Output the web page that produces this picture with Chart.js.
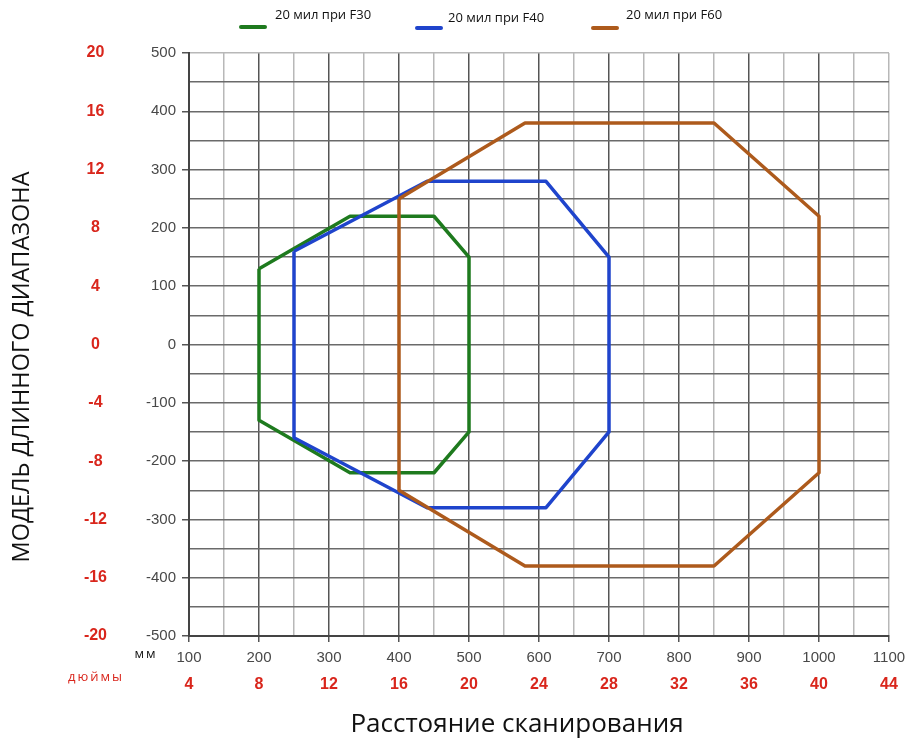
<!DOCTYPE html>
<html>
<head>
<meta charset="utf-8">
<script src="https://cdn.jsdelivr.net/npm/chart.js@4.4.0/dist/chart.umd.min.js"></script>
<style>
html,body{margin:0;padding:0;background:#fff;}
#wrap{width:913px;height:743px;position:relative;}
</style>
</head>
<body>
<div id="wrap"><canvas id="c"></canvas></div>
<script>
// ---- data ----
const seriesLabels = ['20 мил при F30', '20 мил при F40', '20 мил при F60'];
const f30X = [200, 330, 450, 500, 500, 450, 330, 200, 200];
const f30Y = [130, 220, 220, 150, -150, -220, -220, -130, 130];
const f40X = [250, 440, 610, 700, 700, 610, 440, 250, 250];
const f40Y = [160, 280, 280, 150, -150, -280, -280, -160, 160];
const f60X = [400, 580, 850, 1000, 1000, 850, 580, 400, 400];
const f60Y = [250, 380, 380, 220, -220, -380, -380, -250, 250];

const xMmTicks = [100, 200, 300, 400, 500, 600, 700, 800, 900, 1000, 1100];
const xInchTicks = [4, 8, 12, 16, 20, 24, 28, 32, 36, 40, 44];
const yMmTicks = [500, 400, 300, 200, 100, 0, -100, -200, -300, -400, -500];
const yInchTicks = [20, 16, 12, 8, 4, 0, -4, -8, -12, -16, -20];

const xTitle = 'Расстояние сканирования';
const yTitle = 'МОДЕЛЬ ДЛИННОГО ДИАПАЗОНА';
const mmUnit = 'мм';
const inchUnit = 'дюймы';

const colors = ['#1e7a1e', '#1f44cc', '#ad5a1c'];

function pts(xs, ys) { return xs.map((x, i) => ({ x: x, y: ys[i] })); }

const RED = '#d9261c';
const GRAYTXT = '#484848';

const extras = {
  id: 'extras',
  afterDraw(chart) {
    const ctx = chart.ctx;
    ctx.save();
    // legend
    const pos = [[239, 27, 275, 15], [415, 28, 448, 18], [591, 28, 626, 15]];
    chart.data.datasets.forEach((ds, i) => {
      const p = pos[i];
      ctx.strokeStyle = ds.borderColor;
      ctx.lineWidth = 4;
      ctx.lineCap = 'round';
      ctx.beginPath();
      ctx.moveTo(p[0] + 2, p[1]);
      ctx.lineTo(p[0] + 26, p[1]);
      ctx.stroke();
      ctx.fillStyle = '#111';
      ctx.font = '13px "Open Sans"';
      ctx.textAlign = 'left';
      ctx.textBaseline = 'middle';
      ctx.fillText(ds.label, p[2], p[3]);
    });
    // unit labels
    ctx.fillStyle = '#111';
    ctx.font = '13px "Open Sans"';
    ctx.textAlign = 'center';
    ctx.textBaseline = 'middle';
    if ('letterSpacing' in ctx) ctx.letterSpacing = '2px';
    ctx.fillText(mmUnit, 146, 654);
    ctx.fillStyle = RED;
    ctx.font = '13px "Open Sans"';
    ctx.fillText(inchUnit, 96, 677);
    if ('letterSpacing' in ctx) ctx.letterSpacing = '0px';
    // x title
    ctx.fillStyle = '#111';
    ctx.font = '26px "Open Sans"';
    ctx.textAlign = 'center';
    ctx.textBaseline = 'middle';
    ctx.fillText(xTitle, 517, 725);
    // y title
    ctx.translate(22, 367);
    ctx.rotate(-Math.PI / 2);
    ctx.font = '23.5px "Open Sans"';
    ctx.fillText(yTitle, 0, 0);
    ctx.restore();
  }
};

new Chart(document.getElementById('c'), {
  type: 'scatter',
  data: {
    datasets: [
      { label: seriesLabels[0], data: pts(f30X, f30Y), borderColor: colors[0], order: 3 },
      { label: seriesLabels[1], data: pts(f40X, f40Y), borderColor: colors[1], order: 2 },
      { label: seriesLabels[2], data: pts(f60X, f60Y), borderColor: colors[2], order: 1 }
    ].map(d => Object.assign(d, {
      showLine: true, borderWidth: 3.5, pointRadius: 0, pointHoverRadius: 0,
      tension: 0, fill: false, backgroundColor: d.borderColor, borderJoinStyle: 'round'
    }))
  },
  options: {
    responsive: true,
    maintainAspectRatio: false,
    animation: false,
    devicePixelRatio: 1,
    layout: { padding: { top: 53, right: 24, left: 0, bottom: 0 } },
    plugins: { legend: { display: false }, tooltip: { enabled: false }, title: { display: false } },
    scales: {
      x: {
        type: 'linear', position: 'bottom', weight: 0,
        min: 100, max: 1100,
        afterFit: s => { s.height = 32; },
        ticks: {
          stepSize: 50, autoSkip: false, maxRotation: 0, padding: 7,
          color: GRAYTXT, font: { family: 'Liberation Sans', size: 15 },
          callback: v => xMmTicks.includes(v) ? String(v) : ''
        },
        grid: {
          lineWidth: 1.5, tickLength: 6,
          color: c => (c.tick && c.tick.value % 100 === 0 && c.tick.value !== 1100) ? '#555' : '#b8b8b8',
          tickColor: c => (c.tick && c.tick.value % 100 === 0) ? '#555' : 'rgba(0,0,0,0)'
        },
        border: { display: true, color: '#444', width: 2 }
      },
      x2: {
        type: 'linear', position: 'bottom', weight: 1,
        min: 4, max: 44,
        afterFit: s => { s.height = 75; },
        ticks: {
          stepSize: 4, autoSkip: false, maxRotation: 0, padding: 7,
          color: RED, font: { family: 'Liberation Sans', size: 16, weight: 'bold' },
          callback: v => xInchTicks.includes(v) ? String(v) : ''
        },
        grid: { display: false, drawTicks: false },
        border: { display: false }
      },
      y: {
        type: 'linear', position: 'left', weight: 0,
        min: -500, max: 500,
        afterFit: s => { s.width = 70; },
        ticks: {
          stepSize: 50, autoSkip: false, padding: 6,
          color: GRAYTXT, font: { family: 'Liberation Sans', size: 15 },
          callback: v => yMmTicks.includes(v) ? String(v) : ''
        },
        grid: {
          lineWidth: 1.5, tickLength: 7,
          color: c => (c.tick && c.tick.value === 500) ? '#b8b8b8' : '#6a6a6a',
          tickColor: c => (c.tick && c.tick.value % 100 === 0) ? '#555' : 'rgba(0,0,0,0)'
        },
        border: { display: true, color: '#444', width: 2 }
      },
      y2: {
        type: 'linear', position: 'left', weight: 1,
        min: -20, max: 20,
        afterFit: s => { s.width = 119; },
        ticks: {
          stepSize: 4, autoSkip: false, padding: 12, crossAlign: 'center',
          color: RED, font: { family: 'Liberation Sans', size: 16, weight: 'bold' },
          callback: v => yInchTicks.includes(v) ? String(v) : ''
        },
        grid: { display: false, drawTicks: false },
        border: { display: false }
      }
    }
  },
  plugins: [extras]
});
</script>
</body>
</html>
